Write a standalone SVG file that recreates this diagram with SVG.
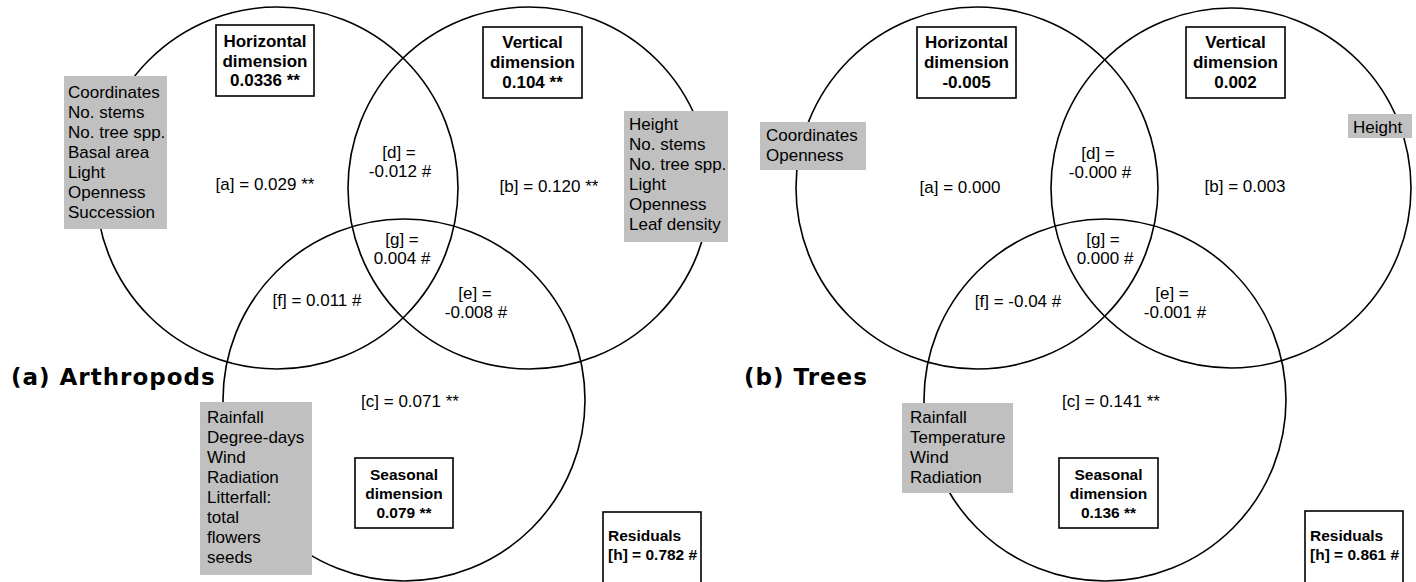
<svg xmlns="http://www.w3.org/2000/svg" width="1416" height="582" viewBox="0 0 1416 582">
<style>
.circ{fill:none;stroke:#000;stroke-width:1.6}
.box{fill:#fff;stroke:#000;stroke-width:1.6}
.gray{fill:#c0c0c0;stroke:none}
.t{font-family:"Liberation Sans",Arial,sans-serif;font-size:17px;fill:#000}
.c{text-anchor:middle}
.bt{font-family:"Liberation Sans",Arial,sans-serif;font-size:17px;font-weight:bold;fill:#000;text-anchor:middle}
.st{font-family:"Liberation Sans",Arial,sans-serif;font-size:15.5px;font-weight:bold;fill:#000}
.title{font-family:"DejaVu Sans",sans-serif;font-size:23px;font-weight:bold;letter-spacing:1px;fill:#000}
</style>
<rect width="1416" height="582" fill="#fff"/>
<g id="circles">
<circle class="circ" cx="277" cy="188" r="181"/>
<circle class="circ" cx="529" cy="188" r="181"/>
<circle class="circ" cx="404" cy="400" r="181"/>
<circle class="circ" cx="977" cy="188" r="181"/>
<circle class="circ" cx="1231" cy="188" r="180"/>
<circle class="circ" cx="1105" cy="400" r="181"/>
</g>
<g id="connectors"></g>
<!-- Panel (a) -->
<g id="title-a"><text class="title" x="11" y="385">(a) Arthropods</text></g>
<g id="a-horizontal">
<rect class="box" x="216" y="25" width="98" height="71"/>
<text class="bt" x="265" y="47">Horizontal</text>
<text class="bt" x="265" y="67">dimension</text>
<text class="bt" x="265" y="86">0.0336 **</text>
</g>
<g id="a-vertical">
<rect class="box" x="483" y="27" width="99" height="71"/>
<text class="bt" x="532.5" y="48">Vertical</text>
<text class="bt" x="532.5" y="68">dimension</text>
<text class="bt" x="532.5" y="88">0.104 **</text>
</g>
<g id="a-seasonal">
<rect class="box" x="355" y="458" width="98" height="70"/>
<text class="st c" x="404" y="480">Seasonal</text>
<text class="st c" x="404" y="499">dimension</text>
<text class="st c" x="404" y="518">0.079 **</text>
</g>
<g id="a-residuals">
<rect class="box" x="603" y="512" width="98" height="80"/>
<text class="st" x="608" y="541">Residuals</text>
<text class="st" x="608" y="560">[h] = 0.782 #</text>
</g>
<g id="a-hvars">
<rect class="gray" x="64" y="76" width="103" height="153"/>
<text class="t" x="68" y="98">Coordinates</text>
<text class="t" x="68" y="118">No. stems</text>
<text class="t" x="68" y="138">No. tree spp.</text>
<text class="t" x="68" y="158">Basal area</text>
<text class="t" x="68" y="178">Light</text>
<text class="t" x="68" y="198">Openness</text>
<text class="t" x="68" y="218">Succession</text>
</g>
<g id="a-vvars">
<rect class="gray" x="624" y="111" width="104" height="131"/>
<text class="t" x="629" y="130">Height</text>
<text class="t" x="629" y="150">No. stems</text>
<text class="t" x="629" y="170">No. tree spp.</text>
<text class="t" x="629" y="190">Light</text>
<text class="t" x="629" y="210">Openness</text>
<text class="t" x="629" y="230">Leaf density</text>
</g>
<g id="a-svars">
<rect class="gray" x="200" y="402" width="112" height="173"/>
<text class="t" x="207" y="423">Rainfall</text>
<text class="t" x="207" y="443">Degree-days</text>
<text class="t" x="207" y="463">Wind</text>
<text class="t" x="207" y="483">Radiation</text>
<text class="t" x="207" y="503">Litterfall:</text>
<text class="t" x="207" y="523">total</text>
<text class="t" x="207" y="543">flowers</text>
<text class="t" x="207" y="563">seeds</text>
</g>
<g id="a-fractions">
<text class="t c" x="265" y="190">[a] = 0.029 **</text>
<text class="t c" x="549" y="192">[b] = 0.120 **</text>
<text class="t c" x="410" y="407">[c] = 0.071 **</text>
<text class="t c" x="399" y="158">[d] =</text>
<text class="t c" x="400" y="177">-0.012 #</text>
<text class="t c" x="475" y="299">[e] =</text>
<text class="t c" x="476" y="318">-0.008 #</text>
<text class="t c" x="317" y="306">[f] = 0.011 #</text>
<text class="t c" x="402" y="245">[g] =</text>
<text class="t c" x="402" y="264">0.004 #</text>
</g>
<!-- Panel (b) -->
<g id="title-b"><text class="title" x="744" y="385">(b) Trees</text></g>
<g id="b-horizontal">
<rect class="box" x="917" y="27" width="99" height="71"/>
<text class="bt" x="966.5" y="48">Horizontal</text>
<text class="bt" x="966.5" y="68">dimension</text>
<text class="bt" x="966.5" y="88">-0.005</text>
</g>
<g id="b-vertical">
<rect class="box" x="1186" y="27" width="99" height="71"/>
<text class="bt" x="1235.5" y="48">Vertical</text>
<text class="bt" x="1235.5" y="68">dimension</text>
<text class="bt" x="1235.5" y="88">0.002</text>
</g>
<g id="b-seasonal">
<rect class="box" x="1059" y="458" width="99" height="70"/>
<text class="st c" x="1108.5" y="480">Seasonal</text>
<text class="st c" x="1108.5" y="499">dimension</text>
<text class="st c" x="1108.5" y="518">0.136 **</text>
</g>
<g id="b-residuals">
<rect class="box" x="1305" y="511" width="98" height="80"/>
<text class="st" x="1310" y="541">Residuals</text>
<text class="st" x="1310" y="560">[h] = 0.861 #</text>
</g>
<g id="b-hvars">
<rect class="gray" x="760" y="122" width="106" height="48"/>
<text class="t" x="766" y="141">Coordinates</text>
<text class="t" x="766" y="161">Openness</text>
</g>
<g id="b-vvars">
<rect class="gray" x="1348" y="114" width="64" height="24"/>
<text class="t" x="1353" y="133">Height</text>
</g>
<g id="b-svars">
<rect class="gray" x="902" y="403" width="111" height="90"/>
<text class="t" x="910" y="423">Rainfall</text>
<text class="t" x="910" y="443">Temperature</text>
<text class="t" x="910" y="463">Wind</text>
<text class="t" x="910" y="483">Radiation</text>
</g>
<g id="b-fractions">
<text class="t c" x="960" y="193">[a] = 0.000</text>
<text class="t c" x="1245" y="192">[b] = 0.003</text>
<text class="t c" x="1111" y="407">[c] = 0.141 **</text>
<text class="t c" x="1098" y="159">[d] =</text>
<text class="t c" x="1100" y="178">-0.000 #</text>
<text class="t c" x="1172" y="299">[e] =</text>
<text class="t c" x="1175" y="318">-0.001 #</text>
<text class="t c" x="1018" y="307">[f] = -0.04 #</text>
<text class="t c" x="1103" y="245">[g] =</text>
<text class="t c" x="1105" y="264">0.000 #</text>
</g>
</svg>
